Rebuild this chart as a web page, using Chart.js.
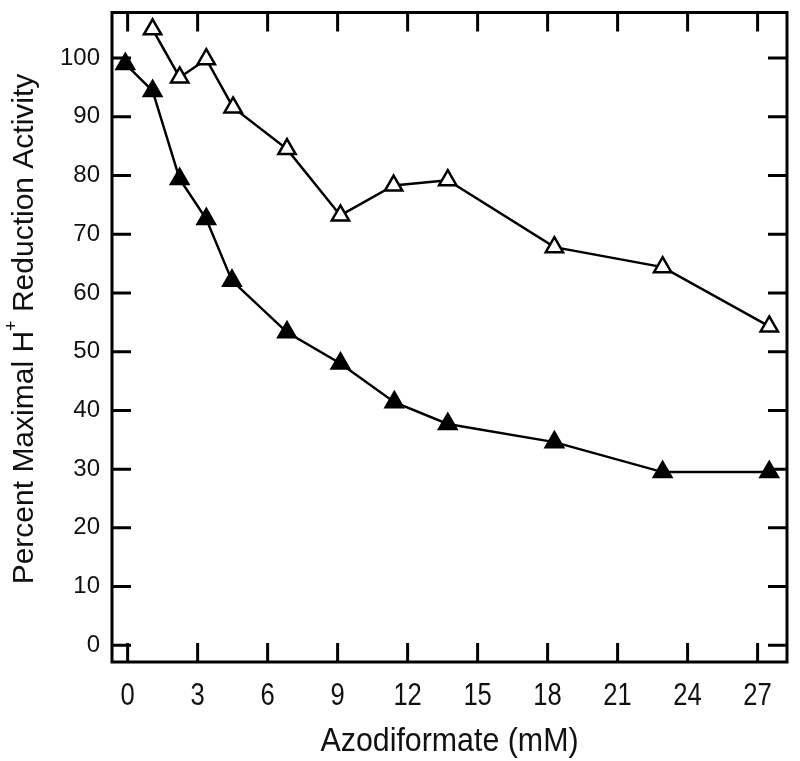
<!DOCTYPE html>
<html>
<head>
<meta charset="utf-8">
<script src="https://cdn.jsdelivr.net/npm/chart.js@4"></script>
<style>
  html, body { margin: 0; padding: 0; background: #fff; }
  #wrap { width: 800px; height: 761px; }
</style>
</head>
<body>
<div id="wrap"><canvas id="chart" width="800" height="761"></canvas></div>
<script>
// Azodiformate concentration (mM) for each measurement
const filledX = [-0.1, 1.07, 2.23, 3.37, 4.47, 6.83, 9.12, 11.43, 13.72, 18.29, 22.93, 27.5];
const filledY = [99.0, 94.4, 79.4, 72.6, 62.1, 53.3, 48.0, 41.4, 37.7, 34.6, 29.5, 29.5];

const openX = [1.07, 2.23, 3.37, 4.52, 6.83, 9.12, 11.4, 13.72, 18.29, 22.93, 27.5];
const openY = [104.9, 96.7, 99.8, 91.6, 84.5, 73.2, 78.3, 79.2, 67.8, 64.4, 54.3];

const xTicks = [0, 3, 6, 9, 12, 15, 18, 21, 24, 27];
const yTicks = [0, 10, 20, 30, 40, 50, 60, 70, 80, 90, 100];

const xTitle = 'Azodiformate (mM)';
const yTitleParts = ['Percent Maximal H', '+', ' Reduction Activity'];

const toPoints = (xs, ys) => xs.map((x, i) => ({ x: x, y: ys[i] }));

const FONT = '"Liberation Sans", Arial, sans-serif';

// frame + inward ticks on all four sides, x labels (narrow) and axis titles
const framePlugin = {
  id: 'frame',
  beforeDatasetsDraw(chart) {
    const { ctx, chartArea: a, scales } = chart;
    const len = 19;
    ctx.save();
    ctx.strokeStyle = '#000';
    ctx.lineWidth = 3;
    ctx.beginPath();
    scales.x.ticks.forEach(t => {
      const px = scales.x.getPixelForValue(t.value);
      ctx.moveTo(px, a.bottom); ctx.lineTo(px, a.bottom - len);
      ctx.moveTo(px, a.top); ctx.lineTo(px, a.top + len);
    });
    scales.y.ticks.forEach(t => {
      const py = scales.y.getPixelForValue(t.value);
      ctx.moveTo(a.left, py); ctx.lineTo(a.left + len, py);
      ctx.moveTo(a.right, py); ctx.lineTo(a.right - len, py);
    });
    ctx.stroke();
    ctx.strokeRect(a.left, a.top, a.right - a.left, a.bottom - a.top);
    ctx.restore();
  },
  afterDraw(chart) {
    const { ctx, chartArea: a, scales } = chart;
    ctx.save();
    ctx.fillStyle = '#111';
    ctx.textAlign = 'center';
    ctx.textBaseline = 'alphabetic';

    // x tick labels, horizontally condensed like the original
    ctx.font = '32px ' + FONT;
    scales.x.ticks.forEach(t => {
      const px = scales.x.getPixelForValue(t.value);
      ctx.save();
      ctx.translate(px, a.bottom + 43);
      ctx.scale(0.8, 1);
      ctx.fillText(String(t.value), 0, 0);
      ctx.restore();
    });

    // x title
    ctx.save();
    ctx.font = '33px ' + FONT;
    ctx.translate((a.left + a.right) / 2, 751);
    ctx.scale(0.92, 1);
    ctx.fillText(xTitle, 0, 0);
    ctx.restore();

    // y title with superscript +
    ctx.translate(33, 329);
    ctx.rotate(-Math.PI / 2);
    const big = '30px ' + FONT;
    const small = '18px ' + FONT;
    ctx.font = big;
    const w0 = ctx.measureText(yTitleParts[0]).width;
    const w2 = ctx.measureText(yTitleParts[2]).width;
    ctx.font = small;
    const w1 = ctx.measureText(yTitleParts[1]).width;
    const x0 = -(w0 + w1 + w2) / 2;
    ctx.textAlign = 'left';
    ctx.font = big;
    ctx.fillText(yTitleParts[0], x0, 0);
    ctx.font = small;
    ctx.fillText(yTitleParts[1], x0 + w0, -16);
    ctx.font = big;
    ctx.fillText(yTitleParts[2], x0 + w0 + w1, 0);
    ctx.restore();
  }
};

const seriesStyle = {
  showLine: true,
  borderColor: '#000',
  borderWidth: 2.5,
  pointStyle: 'triangle',
  pointRadius: 10,
  pointBorderColor: '#000',
  pointBorderWidth: 2.5
};

new Chart(document.getElementById('chart').getContext('2d'), {
  type: 'scatter',
  data: {
    datasets: [
      Object.assign({ label: 'filled', data: toPoints(filledX, filledY), pointBackgroundColor: '#000' }, seriesStyle),
      Object.assign({ label: 'open', data: toPoints(openX, openY), pointBackgroundColor: '#fff' }, seriesStyle)
    ]
  },
  options: {
    responsive: false,
    animation: false,
    layout: { padding: { top: 12, right: 13, bottom: 0, left: 0 } },
    plugins: { legend: { display: false }, tooltip: { enabled: false } },
    scales: {
      x: {
        type: 'linear',
        min: -0.67,
        max: 28.26,
        grid: { display: false, drawTicks: false },
        border: { display: false },
        afterBuildTicks: s => { s.ticks = xTicks.map(v => ({ value: v })); },
        afterFit: s => { s.height = 99; s.paddingLeft = 0; s.paddingRight = 0; },
        ticks: { display: false }
      },
      y: {
        type: 'linear',
        min: -2.84,
        max: 107.76,
        grid: { display: false, drawTicks: false },
        border: { display: false },
        afterBuildTicks: s => { s.ticks = yTicks.map(v => ({ value: v })); },
        afterFit: s => { s.width = 112; s.paddingTop = 0; s.paddingBottom = 0; },
        ticks: {
          color: '#111',
          padding: 12,
          font: { family: FONT, size: 24 }
        }
      }
    }
  },
  plugins: [framePlugin]
});
</script>
</body>
</html>
